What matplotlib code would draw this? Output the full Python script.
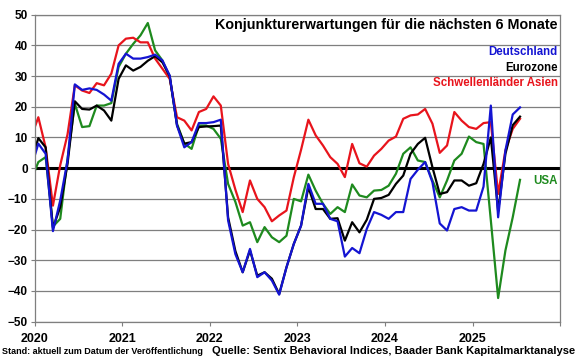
import matplotlib
matplotlib.use("Agg")
import matplotlib.pyplot as plt
import numpy as np

plt.rcParams['font.family'] = ['Liberation Sans', 'DejaVu Sans']
plt.rcParams['font.weight'] = 'bold'

# monatliche Werte, Dez 2019 .. Jul 2025
deutschland = [0, 8, 4.7, -20.5, -10.5, 2.5, 27.3, 25.5, 26, 25.5, 24, 22, 34,
               37.3, 35.7, 35.7, 36.2, 37, 35.1, 30.2, 13.9, 6.8, 8.5, 14.7, 14.7, 15, 15.8,
               -17, -28, -33.9, -26.3, -35.5, -33.9, -36.6, -41.2, -32.3, -24.7, -18.7, -5.1,
               -11.6, -11.6, -16.5, -17.3, -28.8, -26, -27.7, -19.8, -14.3, -15.2, -16.5, -14.3,
               -14.3, -3.5, -0.5, 2, -4.6, -18, -20.3, -13.3, -12.7, -13.8, -13.8, -6, 20.4,
               -16, 5.8, 17.5, 19.8]
eurozone = [2, 9.8, 6.8, -19.5, -12.7, 1.4, 21.8, 19.3, 19.1, 20.4, 18.8, 15.5, 29.1,
            33.5, 31.8, 33, 35, 36.5, 34.5, 30, 14, 8, 8.5, 13.4, 13.6, 13.7, 13.9,
            -16, -27, -33.9, -26.8, -35, -33.9, -36, -41, -32.3, -24.7, -18.7, -6.2,
            -13.3, -13.3, -16.5, -16.3, -23.6, -17.6, -20.9, -16.8, -10, -9.7, -8.7, -5.1,
            -2.4, 4.7, 7.9, 9.9, 0.3, -8.4, -7.8, -4, -4, -5.7, -4.9, 1.4, 10,
            -14, 4.7, 14, 16.8]
asien = [10, 16.6, 6.8, -12.2, 1, 11, 27, 25.3, 24.5, 27.7, 27, 30.8, 40,
         42.2, 42.5, 41, 41, 35.7, 32.4, 29.1, 16.6, 15.5, 12.3, 18.3, 19.3, 23.4, 20.4,
         1.4, -7, -14.3, -4, -10, -12.7, -17.3, -15.4, -13.8, -3, 6, 15.8,
         10.7, 7.4, 3.6, 1.4, -2.9, 7.9, 1.6, 0.5, 4.1, 6.3, 9, 10.3,
         16.1, 17.2, 17.5, 19.3, 14.5, 5, 7.4, 18.3, 15.5, 13.4, 12.8, 14.7, 15,
         -8.4, 5.8, 12.8, 16.1]
usa = [-4, 2, 3.6, -19, -16.5, 3, 21, 13.4, 13.7, 20.4, 20.4, 21.2, 33,
       37.3, 40.5, 43.3, 47.3, 38.4, 35.1, 29.7, 14.5, 8, 6.3, 13.9, 13.9, 12.8, 9.6,
       -5.1, -11, -18.7, -17.6, -24.1, -19.2, -22.5, -24.1, -22, -10, -10.8, -2.1,
       -7.3, -11.6, -14.9, -12.7, -14.3, -5.3, -8.9, -9.5, -7.3, -7.1, -5.7, -1.8,
       4.7, 6.8, 2.5, 2, -4, -9.5, -4, 2.5, 4.7, 10.3, 8.5, 7.9, -17,
       -42.3, -26.8, -16, -3.8]
jahre = ['2020', '2021', '2022', '2023', '2024', '2025', '']

# Monatsmitte als x-Position
x = 2020 + (np.arange(len(deutschland)) - 0.5) / 12

fig = plt.figure(figsize=(5.8, 3.59), dpi=100)
ax = fig.add_axes([0.0598, 0.104, 0.906, 0.855])

ax.plot(x, usa, color='#1e8a1e', lw=1.6)
ax.plot(x, asien, color='#e8141c', lw=1.6)
ax.plot(x, eurozone, color='black', lw=1.6)
ax.plot(x, deutschland, color='#1414d2', lw=1.6)

ax.axhline(0, color='black', lw=2.2, zorder=1)
ax.set_xlim(2020, 2026)
ax.set_ylim(-50, 50)
ax.set_yticks(np.arange(-50, 51, 10))
ax.yaxis.grid(True, color='#7f7f7f', lw=0.9)
ax.set_axisbelow(True)
ax.set_xticks(np.arange(2020, 2027))
ax.set_xticklabels(jahre, fontsize=9, fontweight='bold')
ax.tick_params(axis='y', labelsize=8.5, length=3, color='#7f7f7f', pad=2)
ax.tick_params(axis='x', length=3, color='#7f7f7f', pad=5)
for s in ax.spines.values():
    s.set_color('#7f7f7f')
    s.set_linewidth(0.9)

ax.text(0.995, 0.966, 'Konjunkturerwartungen für die nächsten 6 Monate',
        transform=ax.transAxes, ha='right', va='center', fontsize=10.3, fontweight='bold')
ax.text(0.995, 0.877, 'Deutschland', transform=ax.transAxes, ha='right', va='center',
        fontsize=8.3, fontweight='bold', color='#1414d2')
ax.text(0.995, 0.826, 'Eurozone', transform=ax.transAxes, ha='right', va='center',
        fontsize=8.3, fontweight='bold', color='black')
ax.text(0.995, 0.777, 'Schwellenländer Asien', transform=ax.transAxes, ha='right', va='center',
        fontsize=8.3, fontweight='bold', color='#e8141c')
ax.text(0.995, 0.457, 'USA', transform=ax.transAxes, ha='right', va='center',
        fontsize=8.3, fontweight='bold', color='#1e8a1e')

fig.text(0.004, 0.022, 'Stand: aktuell zum Datum der Veröffentlichung', fontsize=6.5,
         fontweight='bold', ha='left', va='center')
fig.text(0.992, 0.022, 'Quelle: Sentix Behavioral Indices, Baader Bank Kapitalmarktanalyse',
         fontsize=8, fontweight='bold', ha='right', va='center')

fig.savefig('out.png', dpi=100)
